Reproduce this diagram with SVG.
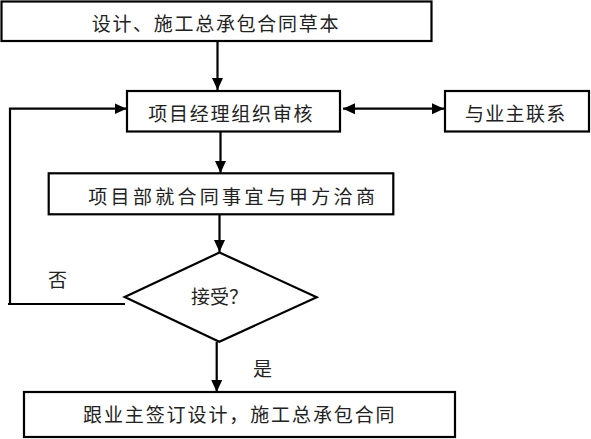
<svg xmlns="http://www.w3.org/2000/svg" width="591" height="439" viewBox="0 0 591 439">
<style>
.box{fill:#fff;stroke:#000;stroke-width:2.2}
.ln{fill:none;stroke:#000;stroke-width:2.2}
.t{font-family:"Liberation Serif","Noto Sans CJK SC",serif;font-size:19px;fill:#222}
</style>
<defs>
<marker id="ah" markerUnits="userSpaceOnUse" markerWidth="13" markerHeight="12" refX="12" refY="5.5" orient="auto">
<path d="M0,0 L12,5.5 L0,11 z" fill="#000"/>
</marker>
<marker id="as" markerUnits="userSpaceOnUse" markerWidth="13" markerHeight="12" refX="0" refY="5.5" orient="auto">
<path d="M12,0 L0,5.5 L12,11 z" fill="#000"/>
</marker>
</defs>
<rect width="591" height="439" fill="#fff"/>
<g id="connectors">
<line class="ln" x1="217.5" y1="41" x2="217.5" y2="90" marker-end="url(#ah)"/>
<line class="ln" x1="220.5" y1="132" x2="220.5" y2="173" marker-end="url(#ah)"/>
<line class="ln" x1="219.5" y1="215" x2="219.5" y2="252" marker-end="url(#ah)"/>
<line class="ln" x1="216.7" y1="342" x2="216.7" y2="392" marker-end="url(#ah)"/>
<line class="ln" x1="343" y1="108.7" x2="444" y2="108.7" marker-start="url(#as)" marker-end="url(#ah)"/>
<path class="ln" d="M125,304 H8 M10,305 V108.7 H126.5" marker-end="url(#ah)"/>
</g>
<g id="n1"><rect class="box" x="1.5" y="1.5" width="430" height="39.5"/><text class="t" x="91.7" y="31" letter-spacing="1.7">设计、施工总承包合同草本</text></g>
<g id="n2"><rect class="box" x="127" y="91" width="213" height="40.5"/><text class="t" x="148.3" y="121" letter-spacing="1.75">项目经理组织审核</text></g>
<g id="n3"><rect class="box" x="445" y="91" width="144" height="40.5"/><text class="t" x="465" y="121" letter-spacing="1.3">与业主联系</text></g>
<g id="n4"><rect class="box" x="48.7" y="173.3" width="344.6" height="41"/><text class="t" x="88.3" y="204" letter-spacing="3.3">项目部就合同事宜与甲方洽商</text></g>
<g id="n5"><polygon class="box" points="219.5,252.5 316.7,297.3 219.3,341.7 124.7,297"/><text class="t" x="191" y="304">接受？</text></g>
<g id="n6"><rect class="box" x="24" y="392" width="431" height="45"/><text class="t" x="83" y="421.5" letter-spacing="1.9">跟业主签订设计，施工总承包合同</text></g>
<g id="labels">
<text class="t" x="48" y="287">否</text>
<text class="t" x="253" y="375.5">是</text>
</g>
</svg>
